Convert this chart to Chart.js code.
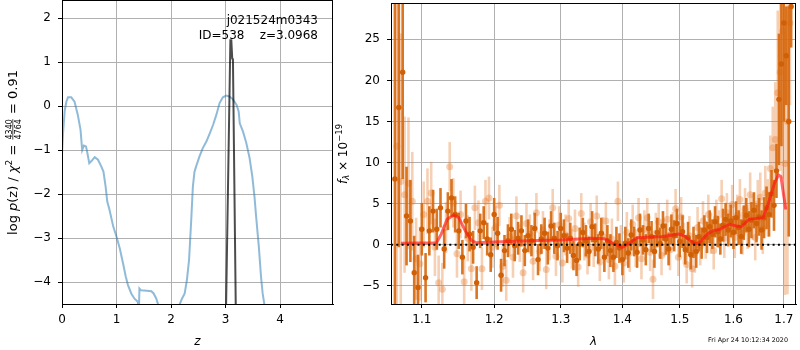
<!DOCTYPE html>
<html>
<head>
<meta charset="utf-8">
<script src="https://cdn.jsdelivr.net/npm/chart.js@4.4.1/dist/chart.umd.min.js"></script>
<style>
    html, body { margin: 0; padding: 0; background: #fff; }
    #wrap { position: relative; width: 800px; height: 350px; overflow: hidden; }
    #pzCanvas { position: absolute; left: 0; top: 0; }
    #specCanvas { position: absolute; left: 330px; top: 0; }
</style>
</head>
<body>
<div id="wrap">
    <canvas id="pzCanvas" width="340" height="350"></canvas>
    <canvas id="specCanvas" width="470" height="350"></canvas>
</div>
<script>
// ================= p(z) panel data ======================
var pzZ = [0.0, 0.02, 0.05, 0.08, 0.11, 0.17, 0.23, 0.29, 0.34, 0.37,
    0.40, 0.44, 0.46, 0.50, 0.54, 0.60, 0.66, 0.72, 0.76, 0.80,
    0.83, 0.87, 0.94, 1.00, 1.06, 1.12, 1.17, 1.21, 1.27, 1.33,
    1.39, 1.41, 1.42, 1.45, 1.55, 1.64, 1.68, 1.73, 1.76, 1.80,
    2.10, 2.16, 2.20, 2.25, 2.29, 2.33, 2.37, 2.40, 2.43, 2.46,
    2.52, 2.58, 2.65, 2.71, 2.77, 2.83, 2.89, 2.95, 3.01, 3.07,
    3.13, 3.20, 3.24, 3.26, 3.32, 3.38, 3.44, 3.49, 3.53, 3.56,
    3.61, 3.65, 3.68, 3.71, 3.75];
var pzLogP = [-1.1, -0.6, -0.1, 0.1, 0.2, 0.2, 0.1, -0.2, -0.54, -1.0,
    -0.9, -0.92, -1.03, -1.3, -1.25, -1.16, -1.22, -1.37, -1.49, -1.83,
    -2.17, -2.35, -2.74, -2.97, -3.24, -3.58, -3.88, -4.07, -4.26, -4.38,
    -4.45, -4.7, -4.15, -4.19, -4.2, -4.21, -4.26, -4.38, -4.5, -5.2,
    -5.2, -4.5, -4.38, -4.26, -3.96, -3.5, -2.59, -1.83, -1.49, -1.37,
    -1.15, -0.96, -0.8, -0.62, -0.43, -0.2, 0.07, 0.2, 0.24, 0.22,
    0.16, 0.03, -0.12, -0.39, -0.58, -0.84, -1.18, -1.6, -2.06, -2.51,
    -3.2, -3.88, -4.26, -4.5, -5.2];

var peakZ = [2.99, 3.088, 3.105, 3.122, 3.135, 3.20];
var peakLogP = [-6, 1.5, 1.5, 1.08, 1.06, -6];

var pzXTicks = [0, 1, 2, 3, 4];
var pzYTicks = [-4, -3, -2, -1, 0, 1, 2];

// ================= spectrum panel data ======================
var darkWave = [1.065, 1.070, 1.075, 1.080, 1.085, 1.090, 1.095, 1.100, 1.105, 1.110,
    1.115, 1.120, 1.125, 1.130, 1.135, 1.140, 1.145, 1.150, 1.155, 1.160,
    1.165, 1.170, 1.175, 1.180, 1.185, 1.190, 1.195, 1.200, 1.205, 1.210,
    1.215, 1.220, 1.225, 1.230, 1.235, 1.240, 1.245, 1.250, 1.255, 1.260,
    1.265, 1.270, 1.275, 1.280, 1.285, 1.290, 1.295, 1.300, 1.305, 1.310,
    1.315, 1.320, 1.325, 1.330, 1.335, 1.340, 1.345, 1.350, 1.355, 1.360,
    1.365, 1.370, 1.375, 1.380, 1.385, 1.390, 1.395, 1.400, 1.405, 1.410,
    1.415, 1.420, 1.425, 1.430, 1.435, 1.440, 1.445, 1.450, 1.455, 1.460,
    1.465, 1.470, 1.475, 1.480, 1.485, 1.490, 1.495, 1.500, 1.505, 1.510,
    1.515, 1.520, 1.525, 1.530, 1.535, 1.540, 1.545, 1.550, 1.555, 1.560,
    1.565, 1.570, 1.575, 1.580, 1.585, 1.590, 1.595, 1.600, 1.605, 1.610,
    1.615, 1.620, 1.625, 1.630, 1.635, 1.640, 1.645, 1.650, 1.655, 1.660,
    1.665, 1.670, 1.675, 1.680, 1.685, 1.690, 1.695, 1.700, 1.705, 1.710,
    1.715];
var darkFlux = [8, 16.7, 21, 3.5, 2.9, -3.4, -5.2, 1.9, -4.0, 1.7,
    4.1, 1.9, 4.5, -0.5, 4.1, 5.7, 3.7, 1.7, -1.5, 2.9,
    1.3, -0.3, -4.6, 1.7, 2.7, 0.7, -1.2, 3.7, 1.4, -3.7,
    -0.7, 0.5, 1.9, -0.1, 0.8, 1.7, -0.7, 1.1, 0.5, 2.0,
    -1.8, 0.7, 1.4, -0.4, 2.3, 0.8, -0.1, 2.0, 1.1, -0.4,
    0.8, -1.3, -1.9, 0.1, 1.5, 0.5, -0.8, 2.2, 0.6, -0.5,
    1.4, -1.5, 0.5, -0.7, -1.5, 0.3, -0.4, -1.8, 0.2, -1.0,
    1.2, 0.4, -0.9, 1.8, 0.6, -0.6, 2.0, 1.0, -0.8, 1.5,
    0.2, 2.3, 0.7, -0.5, 1.9, 1.1, 2.6, 0.4, 1.6, -0.6,
    0.9, -1.2, 0.3, -0.8, 1.0, 0.2, 1.8, 0.9, 2.2, 1.3,
    2.8, 1.6, 0.7, 2.4, 3.1, 1.8, 2.9, 1.5, 3.3, 2.1,
    1.0, 2.7, 3.6, 1.9, 3.0, 4.2, 2.6, 3.4, 1.8, 3.3,
    4.5, 3.7, 6.2, 4.8, 9.0, 17.7, 22, 27, 23, 15,
    29];
var darkErr = [22, 17, 13, 6, 5, 4.5, 4, 3.2, 3, 3,
    2.6, 2.5, 2.4, 2.4, 2.3, 2.3, 2.2, 2.2, 2.1, 2.1,
    2.1, 2.0, 2.0, 2.1, 2.0, 2.0, 2.1, 2.0, 2.0, 2.0,
    1.9, 2.0, 1.9, 1.9, 2.0, 1.9, 1.9, 2.0, 1.9, 1.9,
    1.9, 1.8, 1.9, 2.0, 1.8, 1.9, 1.8, 1.9, 2.0, 1.8,
    1.9, 1.8, 1.9, 2.0, 1.8, 1.9, 1.8, 1.9, 2.0, 1.8,
    1.9, 1.8, 1.9, 2.0, 1.8, 1.9, 1.8, 1.9, 2.0, 1.8,
    1.9, 1.8, 1.9, 2.0, 1.8, 1.9, 1.8, 1.9, 2.0, 1.8,
    1.9, 1.8, 1.9, 2.0, 1.8, 1.9, 1.8, 1.9, 2.0, 1.8,
    1.9, 1.8, 1.9, 2.0, 1.8, 1.9, 1.8, 1.9, 2.0, 1.8,
    1.9, 1.9, 1.9, 2.0, 2.0, 2.0, 2.0, 2.0, 2.0, 2.1,
    2.1, 2.1, 2.1, 2.2, 2.2, 2.2, 2.3, 2.3, 2.4, 2.5,
    2.6, 2.7, 2.9, 3.1, 3.3, 8, 10, 12, 6, 14,
    5];

var lightWave = [1.0675, 1.0725, 1.0775, 1.0825, 1.0875, 1.0925, 1.0975, 1.1025, 1.1075, 1.1125,
    1.1175, 1.1225, 1.1275, 1.1325, 1.1375, 1.1425, 1.1475, 1.1525, 1.1575, 1.1625,
    1.1675, 1.1725, 1.1775, 1.1825, 1.1875, 1.1925, 1.1975, 1.2025, 1.2075, 1.2125,
    1.2175, 1.2225, 1.2275, 1.2325, 1.2375, 1.2425, 1.2475, 1.2525, 1.2575, 1.2625,
    1.2675, 1.2725, 1.2775, 1.2825, 1.2875, 1.2925, 1.2975, 1.3025, 1.3075, 1.3125,
    1.3175, 1.3225, 1.3275, 1.3325, 1.3375, 1.3425, 1.3475, 1.3525, 1.3575, 1.3625,
    1.3675, 1.3725, 1.3775, 1.3825, 1.3875, 1.3925, 1.3975, 1.4025, 1.4075, 1.4125,
    1.4175, 1.4225, 1.4275, 1.4325, 1.4375, 1.4425, 1.4475, 1.4525, 1.4575, 1.4625,
    1.4675, 1.4725, 1.4775, 1.4825, 1.4875, 1.4925, 1.4975, 1.5025, 1.5075, 1.5125,
    1.5175, 1.5225, 1.5275, 1.5325, 1.5375, 1.5425, 1.5475, 1.5525, 1.5575, 1.5625,
    1.5675, 1.5725, 1.5775, 1.5825, 1.5875, 1.5925, 1.5975, 1.6025, 1.6075, 1.6125,
    1.6175, 1.6225, 1.6275, 1.6325, 1.6375, 1.6425, 1.6475, 1.6525, 1.6575, 1.6625,
    1.6675, 1.6725, 1.6775, 1.6825, 1.6875, 1.6925, 1.6975, 1.7025, 1.7075, 1.7125];
var lightFlux = [12, 7.7, 6.1, 7.5, 5.3, -1.7, -2.3, 3.7, 5.3, 6.3,
    -0.3, -4.6, -5.4, 2.1, 9.5, 5.1, -1.1, 3.7, -4.5, 0.8,
    -2.9, 4.5, 2.7, -2.9, 5.3, 5.7, -0.3, 2.2, 4.8, -2.6,
    -4.3, 1.0, -1.5, 3.5, 0.2, -3.4, 2.6, 1.3, -2.0, 3.9,
    -0.8, 1.8, -3.0, 0.6, 4.5, -1.4, 2.4, -2.2, 1.2, 3.2,
    -0.5, 2.0, -2.7, 3.8, 0.4, -1.2, 2.8, -0.3, 3.5, -2.1,
    1.0, 2.9, -1.8, 0.7, -2.6, 5.3, 0.1, -2.2, 1.5, -1.0,
    2.5, -0.4, 3.3, -1.7, 1.9, 3.3, -0.9, -4.2, 1.4, 2.8,
    -1.3, 0.9, 3.1, -0.6, 1.7, 4.4, -1.5, 3.4, 0.2, -2.4,
    1.1, -2.9, -1.0, 2.1, -0.2, 2.9, 0.6, 3.7, 1.4, -0.7,
    3.2, 1.9, 5.6, 0.8, 3.9, 2.5, 4.9, 0.9, 3.6, 5.5,
    1.4, 4.3, 2.2, 6.1, 3.4, 0.9, 5.0, 5.8, 2.0, 6.3,
    4.5, 9.3, 11.8, 12.8, 18.5, 21, 26, 9.9, 15, 27];
var lightErr = [25, 18, 9.5, 8, 6, 5, 4.5, 4, 4, 3.8,
    3.5, 3.3, 3.2, 3.1, 3, 3, 2.9, 2.9, 2.8, 2.8,
    2.7, 2.7, 2.7, 2.6, 2.6, 2.6, 2.5, 2.5, 2.5, 2.5,
    2.5, 2.4, 2.5, 2.4, 2.3, 2.4, 2.5, 2.4, 2.3, 2.4,
    2.4, 2.3, 2.4, 2.5, 2.3, 2.4, 2.3, 2.4, 2.5, 2.3,
    2.4, 2.3, 2.4, 2.5, 2.3, 2.4, 2.3, 2.4, 2.5, 2.3,
    2.4, 2.3, 2.4, 2.5, 2.3, 2.4, 2.3, 2.4, 2.5, 2.3,
    2.4, 2.3, 2.4, 2.5, 2.3, 2.4, 2.3, 2.4, 2.5, 2.3,
    2.4, 2.3, 2.4, 2.5, 2.3, 2.4, 2.3, 2.4, 2.5, 2.3,
    2.4, 2.3, 2.4, 2.5, 2.3, 2.4, 2.3, 2.4, 2.5, 2.3,
    2.3, 2.3, 2.3, 2.4, 2.4, 2.4, 2.4, 2.5, 2.5, 2.5,
    2.6, 2.6, 2.7, 2.7, 2.8, 2.8, 2.9, 3.0, 3.1, 3.3,
    3.5, 4, 5, 7, 10, 12, 18, 16, 21, 10];

var modelWave = [1.0727, 1.1196, 1.126, 1.134, 1.143, 1.150, 1.159, 1.168, 1.175, 1.200,
    1.25, 1.30, 1.35, 1.37, 1.385, 1.40, 1.407, 1.425, 1.47, 1.498,
    1.508, 1.528, 1.536, 1.55, 1.56, 1.574, 1.593, 1.606, 1.615, 1.63,
    1.658, 1.668, 1.681, 1.689, 1.694, 1.704];
var modelFlux = [0.2, 0.25, 1.3, 3.1, 3.6, 3.3, 1.7, 0.5, 0.25, 0.35,
    0.5, 0.6, 0.8, 0.75, 0.15, -0.3, 0.0, 0.85, 1.0, 1.3,
    1.1, 0.1, 0.3, 1.3, 1.7, 1.9, 2.5, 2.3, 2.2, 3.1,
    3.3, 4.9, 7.5, 8.5, 8.3, 4.3];

var specXTicks = [1.1, 1.2, 1.3, 1.4, 1.5, 1.6, 1.7];
var specYTicks = [-5, 0, 5, 10, 15, 20, 25];
var specXMin = 1.06, specXMax = 1.725;

Chart.defaults.font.family = "'DejaVu Sans', sans-serif";
Chart.defaults.font.size = 12;
Chart.defaults.color = '#000';

function zip(xs, ys) {
    return xs.map(function (x, i) { return { x: x, y: ys[i] }; });
}

function fmtTick(v) {
    return v < 0 ? '\u2212' + Math.abs(v) : String(v);
}

function axis(type, min, max, tickVals, fmt, isX, size) {
    return {
        type: type,
        min: min,
        max: max,
        bounds: 'data',
        afterBuildTicks: function (s) {
            s.ticks = tickVals.map(function (v) { return { value: v }; });
        },
        afterFit: function (s) {
            if (isX) { s.height = size; } else { s.width = size; }
            s.paddingTop = 0;
            s.paddingBottom = 0;
            s.paddingLeft = 0;
            s.paddingRight = 0;
        },
        grid: { color: '#b0b0b0', lineWidth: 1, tickColor: '#000', tickLength: 4 },
        border: { display: true, color: '#000', width: 1 },
        ticks: { callback: fmt, padding: isX ? 5 : 7, maxRotation: 0, autoSkip: false, color: '#000' }
    };
}

// error bars drawn under each dataset's markers
var errorBarPlugin = {
    id: 'errorBars',
    beforeDatasetDraw: function (chart, args) {
        var ds = chart.data.datasets[args.index];
        if (!ds.errors) return;
        var ctx = chart.ctx, xs = chart.scales.x, ys = chart.scales.y, a = chart.chartArea;
        ctx.save();
        ctx.beginPath();
        ctx.rect(a.left, a.top, a.right - a.left, a.bottom - a.top);
        ctx.clip();
        ctx.strokeStyle = ds.errorColor;
        ctx.lineWidth = ds.errorWidth;
        ds.data.forEach(function (p, i) {
            var x = xs.getPixelForValue(p.x);
            ctx.beginPath();
            ctx.moveTo(x, ys.getPixelForValue(p.y - ds.errors[i]));
            ctx.lineTo(x, ys.getPixelForValue(p.y + ds.errors[i]));
            ctx.stroke();
        });
        ctx.restore();
    }
};

var framePlugin = {
    id: 'frame',
    afterDraw: function (chart) {
        var a = chart.chartArea, ctx = chart.ctx;
        ctx.save();
        ctx.strokeStyle = '#000';
        ctx.lineWidth = 1;
        ctx.strokeRect(Math.round(a.left) + 0.5, Math.round(a.top) - 0.5,
            Math.round(a.right - a.left) - 1, Math.round(a.bottom - a.top) + 1);
        ctx.restore();
    }
};

// draw a rotated label built from pieces (text, super/subscripts, fraction)
function drawRotatedParts(ctx, parts, bx, cy) {
    var total = 0;
    parts.forEach(function (p) {
        ctx.font = p.font;
        if (p.num) {
            p.w = Math.max(ctx.measureText(p.num).width, ctx.measureText(p.den).width) + 2;
        } else {
            p.w = ctx.measureText(p.t).width;
        }
        total += p.w;
    });
    ctx.save();
    ctx.translate(bx, cy);
    ctx.rotate(-Math.PI / 2);
    ctx.fillStyle = '#000';
    ctx.textBaseline = 'alphabetic';
    var x = -total / 2;
    parts.forEach(function (p) {
        ctx.font = p.font;
        if (p.num) {
            ctx.textAlign = 'center';
            ctx.fillText(p.num, x + p.w / 2, -5.3);
            ctx.fillText(p.den, x + p.w / 2, 3.8);
            ctx.fillRect(x + 1, -4.5, p.w - 2, 0.7);
        } else {
            ctx.textAlign = 'left';
            ctx.fillText(p.t, x, p.dy || 0);
        }
        x += p.w;
    });
    ctx.restore();
}

var F = "'DejaVu Sans', sans-serif";

var pzTextPlugin = {
    id: 'pzText',
    afterDraw: function (chart) {
        var ctx = chart.ctx, a = chart.chartArea;
        ctx.save();
        ctx.fillStyle = '#000';
        ctx.font = '12px ' + F;
        ctx.textAlign = 'right';
        ctx.textBaseline = 'alphabetic';
        ctx.fillText('j021524m0343', 318, 24);
        ctx.fillText('ID=538    z=3.0968', 318, 38.5);
        ctx.font = 'italic 12px ' + F;
        ctx.textAlign = 'center';
        ctx.fillText('z', (a.left + a.right) / 2, 345);
        ctx.restore();
        drawRotatedParts(ctx, [
            { t: 'log ', font: '13px ' + F },
            { t: 'p', font: 'italic 13px ' + F },
            { t: '(z) / ', font: '13px ' + F },
            { t: '\u03c7', font: 'italic 13px ' + F },
            { t: '2', font: '9px ' + F, dy: -5.5 },
            { t: ' = ', font: '13px ' + F },
            { num: '4340', den: '4764', font: '8px ' + F },
            { t: ' = 0.91', font: '13px ' + F }
        ], 17, (a.top + a.bottom) / 2);
    }
};

var specTextPlugin = {
    id: 'specText',
    afterDraw: function (chart) {
        var ctx = chart.ctx, a = chart.chartArea;
        ctx.save();
        ctx.fillStyle = '#000';
        ctx.font = 'italic 12px ' + F;
        ctx.textAlign = 'center';
        ctx.textBaseline = 'alphabetic';
        ctx.fillText('\u03bb', (a.left + a.right) / 2, 345);
        ctx.font = '6.4px ' + F;
        ctx.textAlign = 'right';
        ctx.fillText('Fri Apr 24 10:12:34 2020', 458, 342);
        ctx.restore();
        drawRotatedParts(ctx, [
            { t: 'f', font: 'italic 12px ' + F },
            { t: '\u03bb', font: 'italic 8.5px ' + F, dy: 2.5 },
            { t: ' \u00d7 10', font: '12px ' + F },
            { t: '\u221219', font: '8.5px ' + F, dy: -5 }
        ], 16.5, (a.top + a.bottom) / 2);
    }
};

// ================= p(z) chart ======================
new Chart(document.getElementById('pzCanvas'), {
    type: 'line',
    data: {
        datasets: [{
            data: zip(peakZ, peakLogP),
            borderColor: 'rgba(0,0,0,0.7)',
            borderWidth: 2,
            pointRadius: 0,
            tension: 0,
            clip: 0
        }, {
            data: zip(pzZ, pzLogP),
            borderColor: 'rgba(31,119,180,0.5)',
            borderWidth: 2,
            pointRadius: 0,
            tension: 0,
            clip: 0
        }]
    },
    options: {
        responsive: false,
        animation: false,
        events: [],
        layout: { padding: { left: 0, right: 7, top: 1, bottom: 0 } },
        scales: {
            x: axis('linear', 0, 4.97, pzXTicks, fmtTick, true, 46),
            y: axis('linear', -4.5, 2.39, pzYTicks, fmtTick, false, 62)
        },
        plugins: { legend: { display: false }, tooltip: { enabled: false } }
    },
    plugins: [framePlugin, pzTextPlugin]
});

// ================= spectrum chart ======================
new Chart(document.getElementById('specCanvas'), {
    type: 'line',
    data: {
        datasets: [{
            data: [{ x: specXMin, y: 0 }, { x: specXMax, y: 0 }],
            borderColor: '#000',
            borderWidth: 2,
            borderDash: [2, 3.3],
            pointRadius: 0,
            clip: 0
        }, {
            data: zip(modelWave, modelFlux),
            borderColor: 'rgba(255,20,20,0.65)',
            borderWidth: 3,
            pointRadius: 0,
            tension: 0,
            clip: 0
        }, {
            data: zip(darkWave, darkFlux),
            showLine: false,
            pointRadius: 2.7,
            pointBorderWidth: 0,
            pointBackgroundColor: 'rgb(208,95,5)',
            errors: darkErr,
            errorColor: 'rgba(215,105,15,0.92)',
            errorWidth: 2.6,
            clip: 0
        }, {
            data: zip(lightWave, lightFlux),
            showLine: false,
            pointRadius: 3.5,
            pointBorderWidth: 0,
            pointBackgroundColor: 'rgba(230,120,40,0.35)',
            errors: lightErr,
            errorColor: 'rgba(230,120,40,0.35)',
            errorWidth: 2.6,
            clip: 0
        }]
    },
    options: {
        responsive: false,
        animation: false,
        events: [],
        layout: { padding: { left: 0, right: 2, top: 1, bottom: 0 } },
        scales: {
            x: axis('logarithmic', specXMin, specXMax, specXTicks,
                function (v) { return Number(v).toFixed(1); }, true, 46),
            y: axis('linear', -7.2, 29.3, specYTicks, fmtTick, false, 61)
        },
        plugins: { legend: { display: false }, tooltip: { enabled: false } }
    },
    plugins: [errorBarPlugin, framePlugin, specTextPlugin]
});
</script>
</body>
</html>
